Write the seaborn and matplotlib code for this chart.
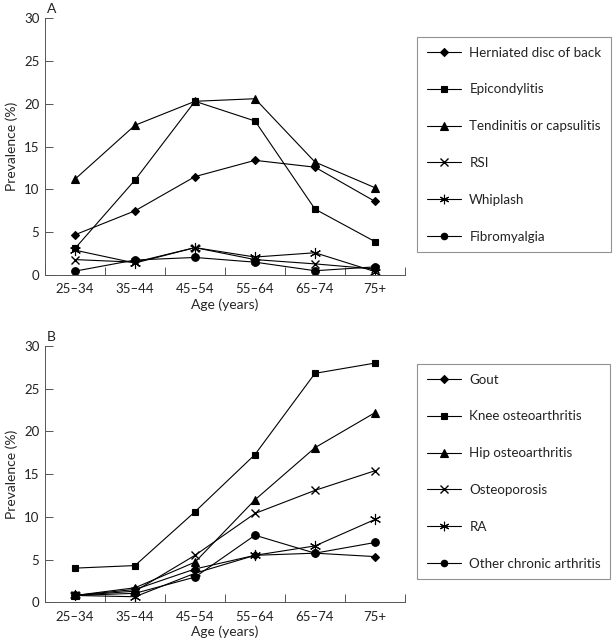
import matplotlib
matplotlib.use("Agg")
import matplotlib.pyplot as plt
import seaborn as sns

# Age groups (x axis)
ages = ["25–34", "35–44", "45–54", "55–64", "65–74", "75+"]

# Panel A
herniated = [4.7, 7.5, 11.5, 13.4, 12.6, 8.6]
epicondylitis = [3.1, 11.1, 20.3, 18.0, 7.7, 3.9]
tendinitis = [11.2, 17.5, 20.3, 20.6, 13.2, 10.2]
rsi = [1.8, 1.5, 3.2, 1.8, 1.3, 0.7]
whiplash = [2.9, 1.4, 3.2, 2.1, 2.6, 0.4]
fibromyalgia = [0.45, 1.75, 2.05, 1.5, 0.5, 0.95]

# Panel B
gout = [0.8, 1.5, 3.9, 5.5, 5.75, 5.35]
knee_oa = [4.0, 4.3, 10.6, 17.3, 26.8, 28.0]
hip_oa = [0.8, 1.7, 4.7, 12.0, 18.1, 22.2]
osteoporosis = [0.8, 1.3, 5.5, 10.4, 13.1, 15.4]
ra = [0.8, 0.65, 3.4, 5.5, 6.6, 9.7]
other_arthritis = [0.8, 1.05, 2.95, 7.85, 5.75, 7.0]

labels_a = ["Herniated disc of back", "Epicondylitis", "Tendinitis or capsulitis",
            "RSI", "Whiplash", "Fibromyalgia"]
labels_b = ["Gout", "Knee osteoarthritis", "Hip osteoarthritis",
            "Osteoporosis", "RA", "Other chronic arthritis"]
series_a = [herniated, epicondylitis, tendinitis, rsi, whiplash, fibromyalgia]
series_b = [gout, knee_oa, hip_oa, osteoporosis, ra, other_arthritis]

# marker, size, edge width
marker_styles = [("D", 4.5, 0.8), ("s", 5.0, 0.8), ("^", 6.0, 0.8),
                 ("x", 6.0, 1.0), ((6, 2, 0), 8.0, 0.8), ("o", 5.5, 0.8)]

sns.set_style("white")
plt.rcParams["font.family"] = ["Lato", "DejaVu Sans"]
plt.rcParams["text.color"] = "#222222"

fig = plt.figure(figsize=(6.13, 6.39), dpi=100)
W, H = 613, 639


def draw_panel(rect, series, labels, letter, legend_top):
    ax = fig.add_axes(rect)
    for vals, lab, (m, ms, mew) in zip(series, labels, marker_styles):
        sns.lineplot(x=ages, y=vals, ax=ax, color="black", linewidth=0.8,
                     marker=m, markersize=ms, markeredgewidth=mew,
                     markeredgecolor="black", label=lab, sort=False)
    ax.set_xlim(-0.5, 5.5)
    ax.set_ylim(0, 30)
    ax.set_yticks([0, 5, 10, 15, 20, 25, 30])
    ax.set_xticks(range(6))
    ax.set_xticklabels(ages)
    ax.set_xticks([i + 0.5 for i in range(-1, 6)], minor=True)
    ax.tick_params(axis="x", which="major", length=0, labelsize=9.5, pad=6, colors="#222222")
    ax.tick_params(axis="x", which="minor", direction="in", length=6, width=0.7,
                   color="#555555", bottom=True)
    ax.tick_params(axis="y", direction="in", length=6, width=0.7, left=True,
                   labelsize=9.5, pad=4, color="#555555", labelcolor="#222222")
    for s in ["top", "right"]:
        ax.spines[s].set_visible(False)
    for s in ["left", "bottom"]:
        ax.spines[s].set_linewidth(0.7)
        ax.spines[s].set_color("#555555")
    ax.set_xlabel("Age (years)", fontsize=10, labelpad=2)
    ax.set_ylabel("Prevalence (%)", fontsize=10, labelpad=4)
    ax.text(0.005, 1.012, letter, transform=ax.transAxes, fontsize=10,
            ha="left", va="bottom")
    handles, labs = ax.get_legend_handles_labels()
    ax.legend_.remove()
    leg = fig.legend(handles, labs, loc="upper left",
                     bbox_to_anchor=(417 / W, 1 - legend_top / H),
                     bbox_transform=fig.transFigure, frameon=True, fancybox=False,
                     edgecolor="#777777", fontsize=9.6, handlelength=2.6,
                     labelspacing=1.86, borderpad=0.72, handletextpad=0.6,
                     borderaxespad=0, markerscale=0.85)
    leg.get_frame().set_linewidth(0.8)
    return ax


draw_panel([45 / W, 1 - 275 / H, 360 / W, 256.7 / H], series_a, labels_a, "A", 37)
draw_panel([45 / W, 1 - 602.3 / H, 360 / W, 256.3 / H], series_b, labels_b, "B", 364)

fig.savefig("out.png", dpi=100)
